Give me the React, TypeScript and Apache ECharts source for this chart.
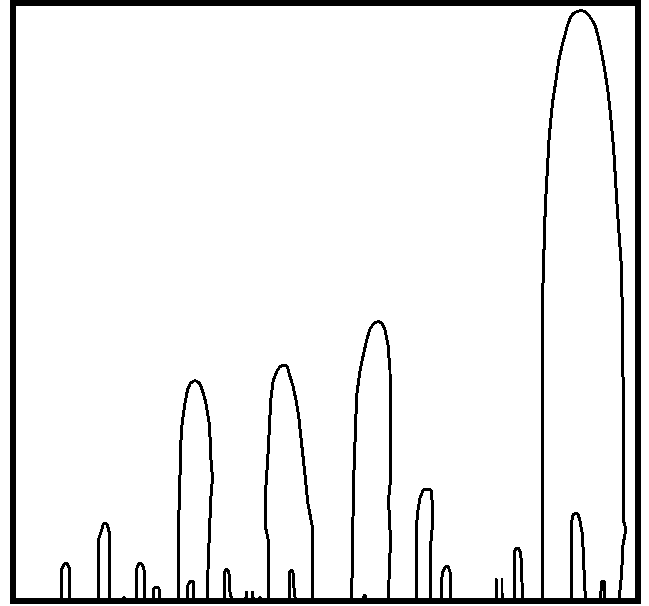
import React, { useEffect, useRef } from "react";
import * as echarts from "echarts";

// Outline points of each peak: [x, level] (arbitrary units)
const peak01 = [[48.7, 0], [48.7, 32], [51.5, 37.5], [54, 37.5], [56.7, 32], [56.7, 0]];
const peak02 = [[85.3, 0], [85.3, 61], [88.7, 71], [90.5, 77.5], [93.5, 77.5], [95.3, 73], [96.7, 66], [96.7, 0]];
const peak03 = [[108.8, 0], [111, 4], [113, 0]];
const peak04 = [[123.7, 0], [123.7, 32], [125.5, 37], [128, 37.5], [130, 35], [131, 31], [131, 0]];
const peak05 = [[140.7, 0], [140.7, 12], [142, 13.5], [145, 13.5], [146.7, 11], [146.7, 0]];
const peak06 = [[165.7, 0], [166, 91], [168.3, 171], [171.7, 196], [174.5, 211], [177.5, 218], [182, 220.5], [186.5, 218], [189.3, 211], [192.7, 199], [196.5, 176], [198, 141], [199.5, 123], [198, 105], [196.5, 71], [195, 31], [194, 0]];
const peak07 = [[174.7, 0], [175, 16], [177, 19.5], [180, 19.5], [180.5, 16], [180.5, 0]];
const peak08 = [[211.7, 0], [211.7, 29], [213, 31.5], [215, 31], [216.5, 25], [217, 9], [219, 0]];
const peak09a = [[232.8, 0], [233.3, 9.5], [233.8, 0]];
const peak09b = [[239.2, 0], [239.7, 9.5], [240.2, 0]];
const peak10 = [[244.5, 0], [247, 4], [249, 0]];
const peak11 = [[255.3, 0], [255.3, 61], [252, 76], [252, 101], [254.7, 141], [257.8, 201], [260.3, 221], [264, 230], [267, 234.5], [271, 236], [274.5, 234.5], [276.2, 227], [280, 215], [283, 201], [285.8, 184], [288.3, 160], [291.5, 131], [294.8, 98], [299, 76], [299, 0]];
const peak12 = [[276.8, 0], [276.8, 29], [278.5, 31.5], [280.8, 26], [281, 13], [282.5, 0]];
const peak13 = [[338.7, 0], [339.5, 58], [340.8, 125], [343.7, 206], [347, 230], [350.3, 246], [353.7, 261], [357, 272], [361, 278], [365.3, 279.5], [369, 278], [372, 271], [375, 256], [377, 231], [377.5, 121], [375.5, 101], [377.5, 61], [376, 21], [375.5, 0]];
const peak14 = [[349.5, 0], [351.7, 6.5], [354, 0]];
const peak15 = [[403.2, 0], [403.2, 73], [405, 91], [407, 103], [410.3, 111], [414, 111.5], [418, 111], [419, 101], [419, 71], [417.7, 56], [417.7, 0]];
const peak16 = [[428, 0], [428, 19], [430.3, 31], [433, 34.5], [435.5, 34], [437, 29], [437, 0]];
const peak17a = [[483, 0], [483.5, 23], [484, 0]];
const peak17b = [[488.7, 0], [489.2, 23], [489.7, 0]];
const peak18 = [[501.3, 0], [501.3, 49], [503, 53], [505.5, 53], [507.5, 48], [508.5, 39], [509.5, 0]];
const peak19 = [[529.5, 0], [529.5, 301], [532.3, 394], [536.2, 464], [539.5, 498], [543, 521], [545.7, 540], [549, 555], [551.7, 565], [554, 574], [557, 582.5], [560.3, 587.5], [564, 589.5], [568, 590.5], [571.7, 589.5], [575.3, 586.5], [578.7, 581.5], [582.3, 575], [585, 565], [588.3, 550], [591.7, 531], [594.8, 511], [597.5, 487], [600.7, 451], [604.2, 394], [608.7, 330], [610.3, 201], [610.3, 81], [613, 72], [610, 56], [608.5, 26], [607, 11], [606.5, 0]];
const peak20 = [[558, 0], [558, 76], [560, 86], [562.5, 88], [565, 87], [567, 80], [569.5, 66], [571, 31], [572.5, 0]];
const peak21 = [[587.5, 0], [588.5, 19], [591, 20], [592, 0]];

const peaks = [peak01, peak02, peak03, peak04, peak05, peak06, peak07, peak08, peak09a, peak09b, peak10, peak11, peak12, peak13, peak14, peak15, peak16, peak17a, peak17b, peak18, peak19, peak20, peak21];
const thinPeaks = [peak17a, peak17b];

const X_MAX = 625;
const Y_MAX = 598;

export default function App() {
  const ref = useRef<HTMLDivElement>(null);
  useEffect(() => {
    if (!ref.current) return;
    const chart = echarts.init(ref.current, null, { renderer: "svg" });
    chart.setOption({
      animation: false,
      backgroundColor: "#ffffff",
      grid: {
        left: 13,
        right: 11,
        top: 3,
        bottom: 5,
        show: true,
        borderColor: "#000000",
        borderWidth: 6,
        backgroundColor: "#ffffff",
      },
      xAxis: { type: "value", min: 0, max: X_MAX, show: false },
      yAxis: { type: "value", min: 0, max: Y_MAX, show: false },
      series: peaks.map((p) => ({
        type: "line",
        data: p,
        showSymbol: false,
        symbol: "none",
        smooth: false,
        silent: true,
        lineStyle: { color: "#000000", width: thinPeaks.includes(p) ? 2 : 3, join: "bevel" },
      })),
    });
    return () => chart.dispose();
  }, []);
  return (
    <>
      <style>{`#root svg, #root svg * { shape-rendering: crispEdges !important; }`}</style>
      <div
        ref={ref}
        style={{
          position: "fixed",
          left: 0,
          top: 0,
          width: 649,
          height: 606,
          background: "#fff",
        }}
      />
    </>
  );
}
